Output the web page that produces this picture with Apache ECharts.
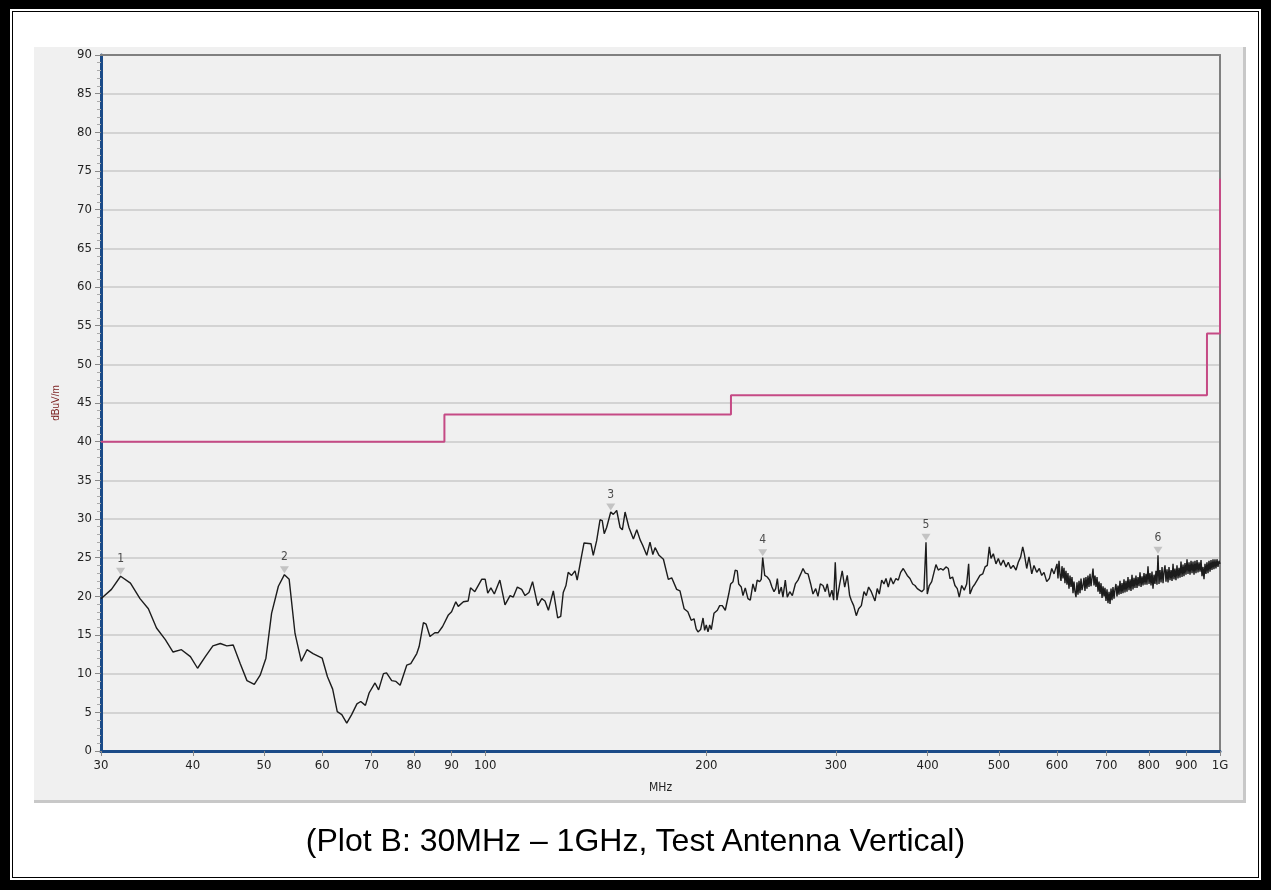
<!DOCTYPE html>
<html><head><meta charset="utf-8">
<script src="https://cdn.jsdelivr.net/npm/echarts@6/dist/echarts.min.js"></script>
<style>
html,body{margin:0;padding:0;background:#fff;}
#frame{position:absolute;left:0;top:0;width:1271px;height:890px;box-sizing:border-box;border:10px solid #000;border-top-width:9px;}
#inner{position:absolute;left:2px;top:2px;right:2px;bottom:2px;border:1px solid #000;}
#panel{position:absolute;left:34px;top:47px;width:1209px;height:753px;background:#f0f0f0;border-right:3px solid #c8c8c8;border-bottom:3px solid #c8c8c8;}
#chart{position:absolute;left:0;top:0;width:1271px;height:890px;}
#caption{position:absolute;left:0;width:1271px;top:821px;text-align:center;font:32px "Liberation Sans",Arial,sans-serif;color:#000;line-height:38px;}
</style></head>
<body>
<div id="frame"><div id="inner"></div></div>
<div id="panel"></div>
<div id="chart"></div>
<div id="caption">(Plot B: 30MHz – 1GHz, Test Antenna Vertical)</div>
<script>
// ---- data ----
const xTickValues = [30,40,50,60,70,80,90,100,200,300,400,500,600,700,800,900,1000];
const yMin = 0, yMax = 90, yStep = 5;

// limit line (step)
const limitFreq  = [30, 88, 88, 216, 216, 960, 960, 1000, 1000];
const limitLevel = [40, 40, 43.5, 43.5, 46, 46, 54, 54, 74];

// measured trace (MHz, dBuV/m)
const measFreq = [
30,31.0,31.9,32.9,33.9,34.8,35.7,36.7,37.6,38.6,39.7,40.6,41.6,42.6,43.6,44.5,45.4,46.4,47.4,48.5,
49.4,50.3,51.2,52.3,53.3,54.1,55.1,56.2,57.2,58.3,60.0,61.0,62.0,62.9,63.8,64.8,65.8,66.9,67.7,68.7,
69.5,70.8,71.6,72.7,73.4,74.6,75.6,76.6,78.2,79.2,80.7,81.3,82.4,83.1,84.1,85.4,86.3,87.5,89.1,90.0,
91.2,91.9,93.4,94.8,95.5,96.8,98.9,100.0,100.8,101.8,102.9,104.7,
106.4,108.1,109.2,110.6,112.1,113.3,114.7,116.0,117.9,119.4,120.6,121.9,123.8,125.5,126.7,127.7,128.8,129.7,
131.1,132.5,133.4,135.0,136.3,139.3,140.3,141.8,143.3,144.3,145.2,146.3,147.1,148.2,149.4,151.0,152.6,153.7,
155.0,156.9,159.1,160.8,162.5,163.8,165.9,167.6,169.1,170.3,172.4,174.8,177.5,179.4,182.2,184.1,186.5,188.7,
190.7,192.4,193.7,194.8,196.4,197.9,198.9,199.9,201.0,202.1,203.1,204.8,207.0,208.5,210.2,212.2,214.5,215.8,
217.4,218.9,220.3,221.3,223.1,224.3,225.9,227.8,229.5,231.4,233.1,234.5,236.3,237.5,238.6,240.1,242.0,243.8,
245.6,247.2,248.5,249.8,251.1,252.9,254.2,256.1,257.7,259.7,261.8,264.3,266.5,268.8,270.7,272.7,275.0,277.3,
279.3,281.7,283.7,285.8,288.2,290.3,292.1,294.3,296.4,298.0,299.5,301.1,303.7,306.1,308.5,311.0,313.3,314.9,
317.3,319.9,322.3,325.0,327.7,330.1,332.5,335.3,
336.7,339.2,341.6,343.8,346.4,348.9,351.1,353.6,356.3,359.2,362.2,364.9,367.6,370.6,372.6,375.3,378.5,381.7,
384.5,387.3,389.7,392.7,395.5,398.0,399.6,402.1,405.2,408.1,410.6,413.6,416.7,420.1,423.7,426.8,429.1,432.6,
435.8,439.0,441.7,445.1,448.7,452.1,454.9,456.8,460.7,464.0,467.3,471.3,475.4,478.9,482.3,485.3,487.9,491.5,
495.6,499.3,503.0,507.2,511.4,515.1,519.0,523.2,527.7,531.5,535.5,538.9,541.6,545.7,549.6,554.4,558.3,563.1,
567.7,572.0,576.1,581.0,585.8,590.2,594.5,
598.1,600.0,601.9,603.8,605.7,607.6,609.5,611.4,613.3,615.2,
617.1,619.1,621.0,623.0,625.0,626.9,628.9,630.9,632.8,634.8,
636.8,638.8,640.8,642.9,644.9,646.9,648.9,650.9,653.0,655.0,
657.0,659.1,661.2,663.3,665.4,667.5,669.6,671.7,673.8,675.9,
678.0,680.2,682.3,684.5,686.6,688.8,691.0,693.1,695.3,697.4,
699.6,701.8,704.0,706.3,708.5,710.7,712.9,715.1,717.4,719.6,
721.8,724.1,726.4,728.7,731.0,733.3,735.6,737.9,740.2,742.5,
744.8,747.2,749.5,751.9,754.3,756.6,759.0,761.4,763.8,766.1,
768.5,771.0,773.4,775.9,778.3,780.8,783.2,785.7,788.1,790.6,
793.0,795.5,798.0,800.6,803.1,805.6,808.1,810.6,813.2,815.7,
818.2,820.8,823.4,826.0,828.6,831.3,833.9,836.5,839.1,841.7,
844.3,847.0,849.7,852.3,855.0,857.7,860.4,863.1,865.7,868.4,
871.1,873.9,876.7,879.4,882.2,885.0,887.8,890.6,893.3,896.1,
898.9,901.8,904.6,907.5,910.3,913.2,916.1,918.9,921.8,924.6,
927.5,930.5,933.4,936.4,939.3,942.3,945.2,948.2,951.1,954.1,
957.0,960.0,963.1,966.1,969.2,972.2,975.2,978.3,981.3,984.4,
987.4,990.6,993.7,996.9,1000
];
const measLevel = [
19.7,20.9,22.6,21.7,19.7,18.4,15.9,14.4,12.8,13.1,12.2,10.7,12.2,13.6,13.9,13.6,13.7,11.3,9.1,8.6,
9.8,12.0,17.8,21.3,22.8,22.2,15.2,11.6,13.1,12.6,12.0,9.6,8.0,5.1,4.7,3.6,4.7,6.1,6.4,5.9,
7.5,8.8,7.9,10.0,10.1,9.1,9.0,8.5,11.1,11.3,12.6,13.5,16.6,16.4,14.8,15.3,15.3,16.1,17.6,18.0,
19.3,18.7,19.3,19.4,21.1,20.6,22.2,22.2,20.4,21.1,20.3,22.1,
18.9,20.1,19.9,21.2,20.9,20.1,20.5,21.9,18.8,19.7,19.4,18.2,20.7,17.2,17.4,20.5,21.4,23.1,
22.7,23.3,22.1,24.8,26.9,26.8,25.3,27.2,29.9,29.8,28.1,28.9,28.7,30.9,30.6,31.1,28.9,28.6,
30.9,28.9,27.4,28.6,27.3,26.6,25.3,27.0,25.4,26.3,25.3,24.8,22.2,22.4,20.9,20.7,18.4,18.0,
16.9,17.1,15.8,15.4,15.7,17.2,15.6,16.3,15.4,16.3,15.7,17.8,18.2,18.8,18.8,18.2,20.3,21.6,
21.9,23.4,23.3,21.6,21.2,20.1,21.1,19.7,19.5,21.6,20.6,22.1,21.9,22.2,25.0,22.7,22.5,22.1,
21.2,20.6,21.0,22.3,20.3,21.2,19.9,22.1,19.9,20.6,20.1,21.6,22.1,22.9,23.6,23.0,22.9,21.6,
20.3,21.0,20.0,21.6,21.4,20.6,21.6,19.9,20.8,19.5,24.4,19.5,21.6,23.3,21.2,22.7,20.1,19.5,
18.8,17.5,18.4,18.8,20.6,20.1,21.2,20.6,
20.6,19.4,21.0,20.3,22.1,21.6,22.3,21.2,22.4,21.6,22.3,22.1,23.1,23.6,23.7,22.7,22.3,21.6,
21.4,21.0,21.2,20.6,20.9,27.0,20.3,21.4,21.9,23.1,24.1,23.4,23.6,23.4,23.8,23.6,22.3,22.5,
21.4,21.0,19.9,21.4,20.8,21.6,24.2,20.3,21.2,21.6,22.1,22.7,22.9,23.8,24.0,26.4,24.9,25.5,
24.2,24.9,24.0,24.7,23.8,24.4,23.6,24.0,23.4,24.4,25.1,26.4,25.5,23.6,25.1,22.9,24.0,23.1,
23.6,22.7,23.1,21.9,22.3,23.6,22.9,
22.9,24.2,22.3,24.6,22.8,22.0,23.9,22.3,23.7,21.7,
23.3,21.5,23.0,21.0,22.7,21.2,22.5,20.4,21.9,20.6,
19.9,21.8,20.2,22.0,20.4,22.3,20.8,21.4,22.4,20.7,
22.5,21.0,22.7,21.2,22.9,21.3,22.4,23.6,21.4,22.7,
21.2,22.5,20.6,21.9,20.3,21.7,19.8,21.3,20.0,21.1,
19.4,20.9,19.1,20.6,19.0,21.0,19.5,21.2,19.7,20.9,
21.6,20.0,21.4,20.2,22.0,20.3,21.7,20.4,22.2,20.5,
22.0,20.6,22.5,20.8,22.2,20.7,22.8,20.9,22.4,21.1,
22.7,21.1,22.5,21.3,23.1,21.2,22.6,21.4,23.0,21.5,
22.9,21.5,23.9,21.6,23.0,21.4,23.2,21.0,22.8,21.6,
23.3,21.5,25.3,21.6,23.4,21.8,23.8,21.7,23.2,24.0,
21.9,23.5,21.8,23.8,22.1,23.4,22.0,24.2,22.2,23.6,
22.1,24.0,22.3,23.7,22.4,24.5,22.5,24.1,22.6,24.3,
22.8,24.8,22.9,24.4,22.8,24.6,23.0,24.5,22.8,24.6,
23.0,24.7,23.1,24.4,23.2,24.7,22.6,23.8,22.2,24.2,
22.9,24.4,23.0,24.6,23.2,24.7,23.4,24.8,23.5,24.8,
23.6,24.8,23.8,24.6,24.2
];

// peak markers
const markerLabels = ['1','2','3','4','5','6'];
const markerFreq   = [31.9, 53.3, 148.2, 238.6, 398.0, 823.4];
const markerLevel  = [22.6, 22.8, 30.9, 25.0, 27.0, 25.3];

// ---- chart ----
const narrow = '"Liberation Sans Narrow","DejaVu Sans Condensed","Liberation Sans",sans-serif';
const chart = echarts.init(document.getElementById('chart'), null, {renderer:'canvas'});
const zip = (a,b) => a.map((v,i)=>[v,b[i]]);

chart.setOption({
  animation:false,
  backgroundColor:'transparent',
  grid:{left:101, top:55, width:1119, height:696, show:true, backgroundColor:'#f0f0f0', borderWidth:0},
  xAxis:[{
    type:'log', logBase:10, min:30, max:1000, position:'bottom',
    axisLine:{show:true, onZero:false, lineStyle:{color:'#1b4b88', width:3}},
    axisTick:{show:true, customValues:xTickValues, length:5, lineStyle:{color:'#888', width:1}},
    axisLabel:{show:true, customValues:xTickValues, margin:8, fontSize:13, fontFamily:narrow, color:'#222',
      formatter:v=>{const r=Math.round(v); return r>=1000?'1G':String(r);}},
    splitLine:{show:false}, minorTick:{show:false}, minorSplitLine:{show:false},
    name:'MHz', nameLocation:'middle', nameGap:31, nameTextStyle:{fontSize:12, fontFamily:narrow, color:'#222'}
  },{
    type:'log', logBase:10, min:30, max:1000, position:'top',
    axisLine:{show:true, onZero:false, lineStyle:{color:'#808080', width:2}},
    axisTick:{show:false}, axisLabel:{show:false}, splitLine:{show:false}
  }],
  yAxis:[{
    type:'value', min:yMin, max:yMax, interval:yStep, position:'left',
    axisLine:{show:true, onZero:false, lineStyle:{color:'#1b4b88', width:3}},
    axisTick:{show:true, length:6, lineStyle:{color:'#888'}},
    minorTick:{show:true, splitNumber:5, length:4, lineStyle:{color:'#aaa'}},
    axisLabel:{margin:9, fontSize:13, fontFamily:narrow, color:'#222'},
    splitLine:{show:true, lineStyle:{color:'#d3d3d3', width:2}},
    name:'dBuV/m', nameLocation:'middle', nameGap:40, nameRotate:90,
    nameTextStyle:{fontSize:10, fontFamily:'"Liberation Sans",sans-serif', color:'#7a1c1c'}
  },{
    type:'value', min:yMin, max:yMax, interval:yStep, position:'right',
    axisLine:{show:true, onZero:false, lineStyle:{color:'#808080', width:2}},
    axisTick:{show:false}, axisLabel:{show:false}, splitLine:{show:false}
  }],
  series:[{
    name:'Limit', type:'line', xAxisIndex:0, yAxisIndex:0, data:zip(limitFreq,limitLevel),
    showSymbol:false, symbol:'none', lineStyle:{color:'#c54a85', width:2}, z:3
  },{
    name:'Trace', type:'line', xAxisIndex:0, yAxisIndex:0, data:zip(measFreq,measLevel),
    showSymbol:false, symbol:'none', sampling:null, lineStyle:{color:'#1c1c1c', width:1.4}, z:4
  },{
    name:'Markers', type:'scatter', xAxisIndex:0, yAxisIndex:0, data:zip(markerFreq,markerLevel),
    symbol:'path://M0,0 L10,0 L5,8 Z', symbolSize:[9,7], symbolOffset:[0,-5],
    itemStyle:{color:'#b8b8b8'},
    label:{show:true, position:'top', distance:3, fontSize:12, fontFamily:narrow, color:'#222',
      formatter:p=>markerLabels[p.dataIndex]},
    z:5
  }]
});
</script>
</body></html>
